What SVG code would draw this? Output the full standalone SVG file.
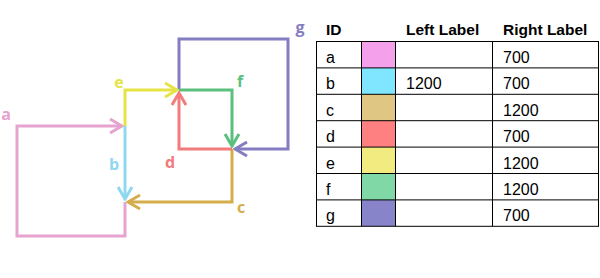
<svg xmlns="http://www.w3.org/2000/svg" width="600" height="278" viewBox="0 0 600 278">
<style>
.ln{fill:none;stroke-width:3}
.lb{font-family:"Open Sans","Liberation Sans",sans-serif;font-weight:bold;font-size:16px;text-anchor:middle}
.grid{stroke:#000;stroke-width:1;fill:none}
.hd{font-family:"Liberation Sans",Arial,sans-serif;font-weight:bold;font-size:15.5px;fill:#000}
.td{font-family:"Liberation Sans",Arial,sans-serif;font-size:16px;fill:#000}
</style>
<defs>
<marker id="ma" markerUnits="userSpaceOnUse" viewBox="-14 -9 16 18" refX="0" refY="0" markerWidth="16" markerHeight="18" orient="auto"><path d="M-12,-7 L0,0 L-12,7" fill="none" stroke="#E6A3CF" stroke-width="3"/></marker>
<marker id="mb" markerUnits="userSpaceOnUse" viewBox="-14 -9 16 18" refX="0" refY="0" markerWidth="16" markerHeight="18" orient="auto"><path d="M-12,-7 L0,0 L-12,7" fill="none" stroke="#8ED8F0" stroke-width="3"/></marker>
<marker id="mc" markerUnits="userSpaceOnUse" viewBox="-14 -9 16 18" refX="0" refY="0" markerWidth="16" markerHeight="18" orient="auto"><path d="M-12,-7 L0,0 L-12,7" fill="none" stroke="#D5AE4C" stroke-width="3"/></marker>
<marker id="md" markerUnits="userSpaceOnUse" viewBox="-14 -9 16 18" refX="0" refY="0" markerWidth="16" markerHeight="18" orient="auto"><path d="M-12,-7 L0,0 L-12,7" fill="none" stroke="#F27B7B" stroke-width="3"/></marker>
<marker id="me" markerUnits="userSpaceOnUse" viewBox="-14 -9 16 18" refX="0" refY="0" markerWidth="16" markerHeight="18" orient="auto"><path d="M-12,-7 L0,0 L-12,7" fill="none" stroke="#E6E346" stroke-width="3"/></marker>
<marker id="mf" markerUnits="userSpaceOnUse" viewBox="-14 -9 16 18" refX="0" refY="0" markerWidth="16" markerHeight="18" orient="auto"><path d="M-12,-7 L0,0 L-12,7" fill="none" stroke="#5BC07E" stroke-width="3"/></marker>
<marker id="mg" markerUnits="userSpaceOnUse" viewBox="-14 -9 16 18" refX="0" refY="0" markerWidth="16" markerHeight="18" orient="auto"><path d="M-12,-7 L0,0 L-12,7" fill="none" stroke="#857DC2" stroke-width="3"/></marker>
</defs>
<rect width="600" height="278" fill="#fff"/>
<g id="connectors">
<path id="g" class="ln" stroke="#857DC2" d="M179,90 V39 H288 V149 H235" marker-end="url(#mg)"/>
<path id="a" class="ln" stroke="#E6A3CF" d="M125,202 V236 H17 V126 H122" marker-end="url(#ma)"/>
<path id="b" class="ln" stroke="#8ED8F0" d="M125,126 V199" marker-end="url(#mb)"/>
<path id="e" class="ln" stroke="#E6E346" d="M125,126 V90 H177" marker-end="url(#me)"/>
<path id="c" class="ln" stroke="#D5AE4C" d="M232,149 V202 H128" marker-end="url(#mc)"/>
<path id="f" class="ln" stroke="#5BC07E" d="M179,90 H232 V146" marker-end="url(#mf)"/>
<path id="d" class="ln" stroke="#F27B7B" d="M232,149 H179 V93" marker-end="url(#md)"/>
</g>
<g id="labels">
<text class="lb" x="6" y="120" fill="#E6A3CF">a</text>
<text class="lb" x="114" y="170" fill="#8ED8F0">b</text>
<text class="lb" x="241" y="213" fill="#D5AE4C">c</text>
<text class="lb" x="170" y="168" fill="#F27B7B">d</text>
<text class="lb" x="119" y="88" fill="#E6E346">e</text>
<text class="lb" x="240" y="87" fill="#5BC07E">f</text>
<text class="lb" x="300" y="33" fill="#857DC2">g</text>
</g>
<g id="table">
<rect x="362" y="42" width="34" height="26" fill="#F5A0EA"/>
<rect x="362" y="68" width="34" height="26" fill="#80E6FF"/>
<rect x="362" y="94" width="34" height="27" fill="#E0C683"/>
<rect x="362" y="121" width="34" height="26" fill="#FF8080"/>
<rect x="362" y="147" width="34" height="27" fill="#F2EC80"/>
<rect x="362" y="174" width="34" height="26" fill="#80D8A6"/>
<rect x="362" y="200" width="34" height="26" fill="#8884CA"/>
<path class="grid" d="M316,41.5 H599 M316,67.9 H599 M316,94.3 H599 M316,120.7 H599 M316,147.1 H599 M316,173.5 H599 M316,199.9 H599 M316,226.3 H599 M316.5,41.5 V226.3 M361.5,41.5 V226.3 M395.5,41.5 V226.3 M492.5,41.5 V226.3 M598.5,41.5 V226.3"/>
<text class="hd" x="326" y="35">ID</text>
<text class="hd" x="406" y="35">Left Label</text>
<text class="hd" x="503" y="35">Right Label</text>
<text class="td" x="326" y="63">a</text>
<text class="td" x="326" y="89.4">b</text>
<text class="td" x="326" y="115.8">c</text>
<text class="td" x="326" y="142.2">d</text>
<text class="td" x="326" y="168.6">e</text>
<text class="td" x="326" y="195">f</text>
<text class="td" x="326" y="221.4">g</text>
<text class="td" x="406" y="89.4">1200</text>
<text class="td" x="503" y="63">700</text>
<text class="td" x="503" y="89.4">700</text>
<text class="td" x="503" y="115.8">1200</text>
<text class="td" x="503" y="142.2">700</text>
<text class="td" x="503" y="168.6">1200</text>
<text class="td" x="503" y="195">1200</text>
<text class="td" x="503" y="221.4">700</text>
</g>
</svg>
